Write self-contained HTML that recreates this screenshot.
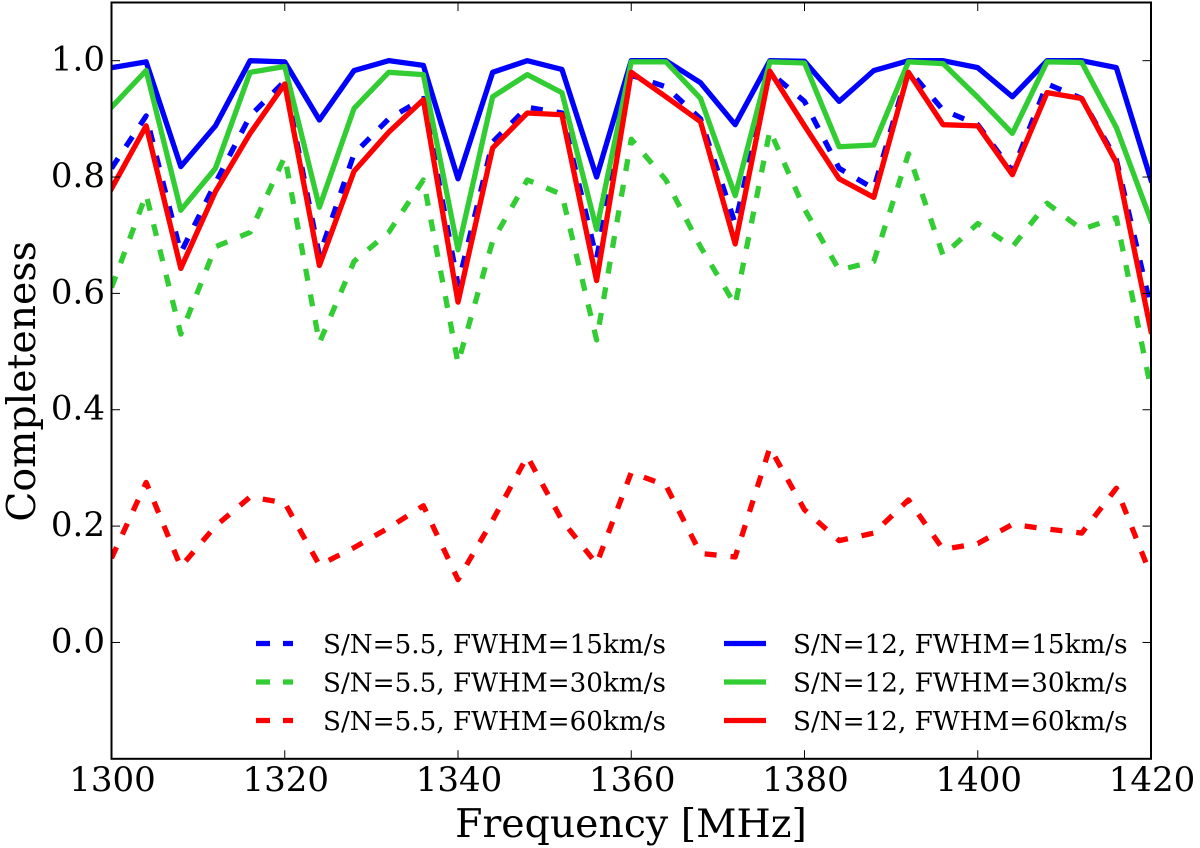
<!DOCTYPE html>
<html lang="en">
<head>
<meta charset="utf-8">
<title>Completeness vs Frequency</title>
<style>
html,body{margin:0;padding:0;background:#fff;}
#chart{display:block;position:absolute;left:0;top:0;}
text{font-family:"DejaVu Serif","Liberation Serif",serif;fill:#000;}
</style>
</head>
<body>
<svg id="chart" width="1200" height="848" viewBox="0 0 1200 848" xmlns="http://www.w3.org/2000/svg"></svg>
<script>
const frequencies = [1300,1304,1308,1312,1316,1320,1324,1328,1332,1336,1340,1344,1348,1352,1356,1360,1364,1368,1372,1376,1380,1384,1388,1392,1396,1400,1404,1408,1412,1416,1420];
const dashed15 = [.815,.905,.67,.79,.905,.965,.665,.84,.9,.935,.615,.86,.92,.91,.66,.975,.955,.9,.72,.98,.93,.815,.78,.985,.915,.89,.81,.96,.935,.83,.575];
const dashed30 = [.61,.77,.53,.68,.705,.835,.515,.655,.705,.795,.48,.69,.795,.77,.52,.865,.795,.68,.58,.88,.745,.64,.655,.84,.665,.72,.68,.755,.71,.73,.435];
const dashed60 = [.145,.275,.13,.2,.25,.24,.133,.163,.197,.235,.108,.21,.32,.21,.135,.292,.27,.153,.147,.335,.228,.175,.188,.245,.16,.17,.203,.195,.188,.265,.115];
const solid15 = [.988,.998,.818,.888,1,.998,.898,.983,1,.992,.797,.98,1,.985,.8,1,1,.962,.89,1,.999,.93,.983,1,1,.988,.938,1,1,.988,.795];
const solid30 = [.92,.983,.743,.815,.98,.99,.748,.918,.98,.976,.675,.938,.976,.945,.71,.998,.998,.935,.768,.998,.996,.852,.855,.998,.995,.937,.875,.998,.997,.885,.725];
const solid60 = [.78,.888,.643,.775,.875,.96,.648,.81,.877,.933,.585,.85,.91,.907,.622,.98,.938,.895,.685,.982,.888,.797,.765,.98,.89,.888,.804,.945,.935,.825,.535];
const xTickValues = [1300,1320,1340,1360,1380,1400,1420];
const yTickValues = [0,0.2,0.4,0.6,0.8,1.0];
const seriesLabelsDashed = ["S/N=5.5, FWHM=15km/s","S/N=5.5, FWHM=30km/s","S/N=5.5, FWHM=60km/s"];
const seriesLabelsSolid = ["S/N=12, FWHM=15km/s","S/N=12, FWHM=30km/s","S/N=12, FWHM=60km/s"];

const NS = "http://www.w3.org/2000/svg";
const svg = document.getElementById("chart");
const plot = {left:111.5,right:1151,top:2.5,bottom:758.8};
const xDomain = [1300,1420];
const yDomain = [-0.2,1.1];
const BLUE = "#0000ff", GREEN = "#32cd32", RED = "#ff0000";
const DASH = "12 14";
const LINE_WIDTH = 5.3;

function xScale(v){ return plot.left + (v - xDomain[0]) / (xDomain[1] - xDomain[0]) * (plot.right - plot.left); }
function yScale(v){ return plot.bottom - (v - yDomain[0]) / (yDomain[1] - yDomain[0]) * (plot.bottom - plot.top); }
function make(tag, attrs, parent){
  const el = document.createElementNS(NS, tag);
  for (const k in attrs) el.setAttribute(k, attrs[k]);
  (parent || svg).appendChild(el);
  return el;
}

const defs = make("defs", {});
const clip = make("clipPath", {id:"plot-clip"}, defs);
make("rect", {x:plot.left,y:plot.top,width:plot.right-plot.left,height:plot.bottom-plot.top}, clip);

const linesGroup = make("g", {"clip-path":"url(#plot-clip)"});



function drawSeries(values, color, dashed, name){
  const pts = values.map((v,i) => xScale(frequencies[i]).toFixed(2) + "," + yScale(v).toFixed(2)).join(" ");
  const line = make("polyline", {points:pts,fill:"none",stroke:color,"stroke-width":LINE_WIDTH,"stroke-linejoin":"round","stroke-linecap":dashed?"butt":"square"}, linesGroup);
  if (dashed) line.setAttribute("stroke-dasharray", DASH);
  
  
}
drawSeries(dashed15, BLUE, true, 'line-snr5-fwhm15');
drawSeries(dashed30, GREEN, true, 'line-snr5-fwhm30');
drawSeries(dashed60, RED, true, 'line-snr5-fwhm60');
drawSeries(solid15, BLUE, false, 'line-snr12-fwhm15');
drawSeries(solid30, GREEN, false, 'line-snr12-fwhm30');
drawSeries(solid60, RED, false, 'line-snr12-fwhm60');

/* ticks */
const TICK = 8.5;
xTickValues.forEach(v => {
  const x = xScale(v);
  const g = make("g", {});
  
  
  make("line", {x1:x,x2:x,y1:plot.bottom,y2:plot.bottom-TICK,stroke:"#000","stroke-width":1}, g);
  make("line", {x1:x,x2:x,y1:plot.top,y2:plot.top+TICK,stroke:"#000","stroke-width":1}, g);
  const t = make("text", {x:x+1,y:791,"text-anchor":"middle","font-size":34}, g);
  t.textContent = String(v);
});
yTickValues.forEach(v => {
  const y = yScale(v);
  const g = make("g", {});
  
  
  make("line", {x1:plot.left,x2:plot.left+TICK,y1:y,y2:y,stroke:"#000","stroke-width":1}, g);
  make("line", {x1:plot.right,x2:plot.right-TICK,y1:y,y2:y,stroke:"#000","stroke-width":1}, g);
  const t = make("text", {x:105,y:y+10,"text-anchor":"end","font-size":34}, g);
  t.textContent = v.toFixed(1);
});

/* frame */
const frame = make("rect", {x:plot.left,y:plot.top,width:plot.right-plot.left,height:plot.bottom-plot.top,fill:"none",stroke:"#000","stroke-width":2});



/* axis titles */
const xTitle = make("text", {x:631,y:837,"text-anchor":"middle","font-size":39.4});
xTitle.textContent = "Frequency [MHz]";


const yTitle = make("text", {x:0,y:0,"text-anchor":"middle","font-size":39.4,transform:"translate(35,381.5) rotate(-90)"});
yTitle.textContent = "Completeness";



/* legend */
const legend = make("g", {});


const legendColors = [BLUE, GREEN, RED];
const legendRows = [643.5, 682, 720.5];
function drawLegendEntry(label, color, rowY, x1, x2, textX, dashed){
  const g = make("g", {}, legend);
  
  
  const l = make("line", {x1:x1,x2:x2,y1:rowY,y2:rowY,stroke:color,"stroke-width":LINE_WIDTH}, g);
  if (dashed) l.setAttribute("stroke-dasharray", "14 13");
  const t = make("text", {x:textX,y:rowY+9.5,"font-size":26.2}, g);
  t.textContent = label;
}
seriesLabelsDashed.forEach((s,i) => drawLegendEntry(s, legendColors[i], legendRows[i], 256, 293, 323, true));
seriesLabelsSolid.forEach((s,i) => drawLegendEntry(s, legendColors[i], legendRows[i], 724, 766, 793, false));
</script>
</body>
</html>
